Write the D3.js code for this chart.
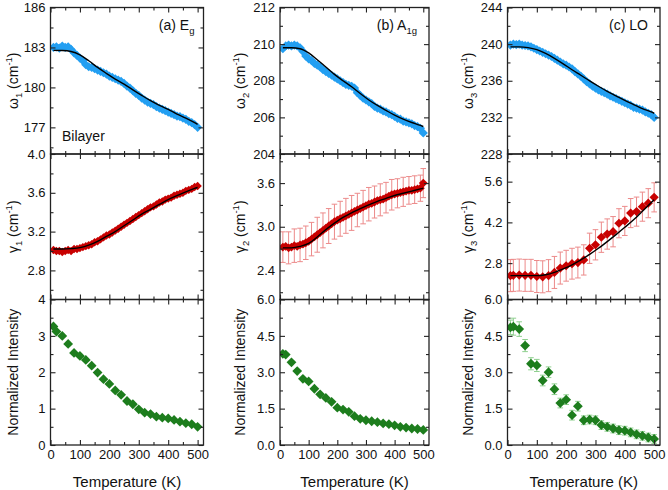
<!DOCTYPE html>
<html><head><meta charset="utf-8">
<script src="https://cdn.jsdelivr.net/npm/d3@7"></script>
<style>
body{margin:0;background:#fff}
svg{display:block}
text{font-family:"Liberation Sans", Arial, sans-serif;fill:#111}
</style>
</head><body><svg id="c" width="668" height="490"></svg>
<script>
// ---------------- DATA ----------------
const tempDense = [10,20,30,40,50,60,70,80,90,100,110,120,130,140,150,160,170,180,190,200,210,220,230,240,250,260,270,280,290,300,310,320,330,340,350,360,370,380,390,400,410,420,430,440,450,460,470,480,490,500];
const tempSparse = [10,20,40,60,80,100,120,140,160,180,200,220,240,260,280,300,320,340,360,380,400,420,440,460,480,500];
const fitTemp = [10,40,70,100,130,160,190,220,250,280,310,340,370,400,430,460,490,500];

const omega1 = [183.0,183.05,182.95,183.1,183.0,183.05,182.85,182.6,182.4,182.2,182.0,181.7,181.55,181.5,181.4,181.3,181.2,181.1,181.0,180.85,180.75,180.65,180.55,180.45,180.3,180.1,179.95,179.75,179.55,179.4,179.2,179.05,178.9,178.8,178.7,178.55,178.45,178.35,178.25,178.15,178.05,177.95,177.85,177.8,177.7,177.6,177.45,177.35,177.2,177.0];
const omega1Fit = [182.78,182.77,182.7,182.45,182.0,181.5,181.05,180.62,180.25,179.82,179.4,179.0,178.65,178.35,178.0,177.7,177.35,177.22];

const omega2 = [209.75,209.9,209.95,209.9,209.95,209.9,209.8,209.6,209.35,209.2,209.1,208.95,208.85,208.75,208.6,208.5,208.4,208.3,208.2,208.1,208.0,207.9,207.8,207.75,207.7,207.6,207.35,207.2,207.05,206.95,206.85,206.75,206.6,206.5,206.45,206.35,206.3,206.2,206.15,206.05,205.95,205.9,205.8,205.75,205.7,205.65,205.55,205.5,205.4,205.15];
const omega2Fit = [209.8,209.8,209.75,209.52,209.15,208.75,208.35,208.0,207.67,207.3,206.95,206.65,206.38,206.12,205.9,205.72,205.56,205.5];

const omega3 = [239.9,240.0,239.95,240.0,239.9,239.85,239.8,239.7,239.55,239.4,239.25,239.1,238.95,238.8,238.65,238.45,238.25,238.05,237.85,237.7,237.5,237.3,237.0,236.75,236.5,236.2,235.9,235.65,235.4,235.2,235.0,234.85,234.7,234.55,234.35,234.2,234.05,233.9,233.75,233.6,233.45,233.3,233.1,233.0,232.9,232.8,232.6,232.45,232.3,232.0];
const omega3Fit = [239.7,239.7,239.62,239.4,238.98,238.45,237.85,237.2,236.6,235.98,235.4,234.85,234.35,233.85,233.4,232.95,232.6,232.45];

const gamma1 = [3.01,3.0,3.0,2.99,3.0,3.01,3.0,3.02,3.02,3.03,3.04,3.05,3.06,3.07,3.09,3.10,3.12,3.14,3.16,3.17,3.19,3.21,3.23,3.25,3.27,3.29,3.31,3.33,3.35,3.37,3.39,3.41,3.43,3.45,3.46,3.48,3.50,3.51,3.53,3.54,3.55,3.57,3.58,3.59,3.60,3.62,3.63,3.64,3.66,3.67];
const gamma1Fit = [3.02,3.02,3.025,3.035,3.06,3.1,3.15,3.2,3.26,3.32,3.38,3.43,3.48,3.53,3.57,3.61,3.645,3.655];

const gamma2 = [2.72,2.73,2.71,2.72,2.74,2.73,2.75,2.76,2.78,2.80,2.83,2.86,2.89,2.92,2.95,2.98,3.01,3.04,3.07,3.09,3.11,3.13,3.15,3.17,3.19,3.21,3.23,3.25,3.27,3.29,3.31,3.32,3.34,3.36,3.37,3.38,3.40,3.42,3.44,3.45,3.46,3.47,3.48,3.49,3.50,3.50,3.51,3.52,3.53,3.60];
const gamma2ErrTemp = [10,30,50,70,90,110,130,150,170,190,210,230,250,270,290,310,330,350,370,390,410,430,450,470,490,500];
const gamma2Err = [0.21,0.22,0.23,0.23,0.23,0.23,0.24,0.24,0.24,0.24,0.24,0.24,0.24,0.23,0.23,0.23,0.22,0.22,0.21,0.21,0.2,0.2,0.19,0.19,0.18,0.2];
const gamma2Fit = [2.71,2.71,2.73,2.77,2.86,2.96,3.05,3.13,3.19,3.25,3.30,3.35,3.39,3.43,3.46,3.49,3.52,3.53];

const gamma3 = [2.37,2.38,2.39,2.38,2.38,2.34,2.33,2.37,2.48,2.63,2.71,2.78,2.82,2.91,3.31,3.43,3.69,3.80,3.88,4.17,4.25,4.52,4.57,4.74,4.86,5.06];
const gamma3Err = [0.55,0.55,0.55,0.55,0.55,0.55,0.55,0.55,0.55,0.55,0.53,0.53,0.53,0.52,0.52,0.52,0.52,0.52,0.52,0.5,0.5,0.5,0.5,0.5,0.5,0.5];
const gamma3Fit = [2.37,2.37,2.37,2.37,2.40,2.48,2.60,2.74,2.91,3.10,3.31,3.54,3.78,4.03,4.29,4.58,4.88,4.98];

const intensity1 = [3.26,3.12,3.0,2.78,2.53,2.45,2.34,2.18,1.99,1.81,1.68,1.50,1.38,1.21,1.12,0.98,0.89,0.85,0.78,0.75,0.73,0.69,0.64,0.60,0.57,0.50];
const intensity2 = [3.76,3.73,3.41,3.05,2.73,2.62,2.32,2.09,1.94,1.78,1.54,1.46,1.37,1.19,1.08,1.02,0.98,0.94,0.89,0.86,0.81,0.75,0.72,0.68,0.66,0.62];
const intensity3 = [4.85,4.88,4.78,4.10,3.35,3.28,2.66,3.0,2.30,1.73,1.87,1.23,1.60,1.02,1.05,1.02,0.82,0.75,0.68,0.61,0.59,0.52,0.44,0.38,0.31,0.25];
const intensity3Err = [0.3,0.35,0.3,0.25,0.25,0.25,0.22,0.22,0.22,0.2,0.2,0.2,0.2,0.18,0.18,0.18,0.18,0.18,0.18,0.18,0.18,0.18,0.18,0.18,0.18,0.18];

const xTicksMajor = [0,100,200,300,400,500];
const xTicksMinor = [50,150,250,350,450];
const xDomain = [0,520];

// ---------------- LAYOUT / STYLE ----------------
const colX = [[50.5,203.5],[280,429],[507.5,660]];
const rowY = [[7.5,154],[154,299.5],[299.5,445]];
const BLUE = "#239ff2", RED = "#c80000", GREEN = "#1d7d1d";
const RED_ERR = "#ec8a8a", GREEN_ERR = "#8fd08f";

const panels = [
  {c:0,r:0,x:tempDense,y:omega1,fx:fitTemp,fy:omega1Fit,dom:[175,186],maj:[177,180,183,186],min:[175.5,178.5,181.5,184.5],fmt:"d",col:BLUE,rad:4.6},
  {c:1,r:0,x:tempDense,y:omega2,fx:fitTemp,fy:omega2Fit,dom:[204,212],maj:[204,206,208,210,212],min:[205,207,209,211],fmt:"d",col:BLUE,rad:4.6},
  {c:2,r:0,x:tempDense,y:omega3,fx:fitTemp,fy:omega3Fit,dom:[228,244],maj:[228,232,236,240,244],min:[230,234,238,242],fmt:"d",col:BLUE,rad:4.6},
  {c:0,r:1,x:tempDense,y:gamma1,fx:fitTemp,fy:gamma1Fit,dom:[2.5,4.0],maj:[2.8,3.2,3.6,4.0],min:[2.6,3.0,3.4,3.8],fmt:".1f",col:RED,rad:4.2},
  {c:1,r:1,x:tempDense,y:gamma2,fx:fitTemp,fy:gamma2Fit,dom:[2.0,4.0],maj:[2.4,3.0,3.6],min:[2.1,2.7,3.3,3.9],fmt:".1f",col:RED,rad:4.4,
     ex:gamma2ErrTemp,ee:gamma2Err,ecol:RED_ERR},
  {c:2,r:1,x:tempSparse,y:gamma3,fx:fitTemp,fy:gamma3Fit,dom:[1.55,6.55],maj:[2.8,4.2,5.6],min:[2.1,3.5,4.9,6.3],fmt:".1f",col:RED,rad:4.6,
     ex:tempSparse,ee:gamma3Err,ecol:RED_ERR},
  {c:0,r:2,x:tempSparse,y:intensity1,dom:[0,4],maj:[0,1,2,3,4],min:[0.5,1.5,2.5,3.5],fmt:"d",col:GREEN,rad:4.9},
  {c:1,r:2,x:tempSparse,y:intensity2,dom:[0,6],maj:[0,1.5,3.0,4.5,6.0],min:[0.75,2.25,3.75,5.25],fmt:".1f",col:GREEN,rad:4.9},
  {c:2,r:2,x:tempSparse,y:intensity3,dom:[0,6],maj:[0,1.5,3.0,4.5,6.0],min:[0.75,2.25,3.75,5.25],fmt:".1f",col:GREEN,rad:4.9,
     ex:tempSparse,ee:intensity3Err,ecol:GREEN_ERR}
];

const yTitles = [
  [["ω"],["1","sub"],[" (cm"],["-1","sup"],[")"]],
  [["γ"],["1","sub"],[" (cm"],["-1","sup"],[")"]],
  [["Normalized Intensity"]],
  [["ω"],["2","sub"],[" (cm"],["-1","sup"],[")"]],
  [["γ"],["2","sub"],[" (cm"],["-1","sup"],[")"]],
  [["Normalized Intensity"]],
  [["ω"],["3","sub"],[" (cm"],["-1","sup"],[")"]],
  [["γ"],["3","sub"],[" (cm"],["-1","sup"],[")"]],
  [["Normalized Intensity"]]
];
const panelLabels = [
  [["(a) E"],["g","sub"]],
  [["(b) A"],["1g","sub"]],
  [["(c) LO"]]
];
const xTitle = "Temperature (K)";
const noteText = "Bilayer";

// ---------------- DRAW ----------------
const svg = d3.select("#c");
const diamond = r => `M0,${-r}L${r},0L0,${r}L${-r},0Z`;

function richText(sel, parts, base) {
  let shift = 0;
  parts.forEach(p => {
    const t = sel.append("tspan").text(p[0]);
    let target = 0;
    if (p[1] === "sub") { target = base*0.3; t.attr("font-size", base*0.68); }
    else if (p[1] === "sup") { target = -base*0.42; t.attr("font-size", base*0.68); }
    t.attr("dy", target - shift);
    shift = target;
  });
}

panels.forEach((p, i) => {
  const [x0, x1] = colX[p.c], [y0, y1] = rowY[p.r];
  const xs = d3.scaleLinear().domain(xDomain).range([x0, x1]);
  const ys = d3.scaleLinear().domain(p.dom).range([y1, y0]);
  const g = svg.append("g");

  const clipId = "clip" + i;
  svg.append("clipPath").attr("id", clipId).append("rect")
     .attr("x", x0).attr("y", y0).attr("width", x1 - x0).attr("height", y1 - y0);
  const plot = g.append("g").attr("clip-path", `url(#${clipId})`);

  // error bars
  if (p.ex) {
    const lookup = new Map(p.x.map((t, k) => [t, p.y[k]]));
    p.ex.forEach((t, k) => {
      const v = lookup.get(t), e = p.ee[k];
      const cx = xs(t);
      plot.append("line").attr("x1", cx).attr("x2", cx).attr("y1", ys(v - e)).attr("y2", ys(v + e))
        .attr("stroke", p.ecol).attr("stroke-width", 1);
      [v - e, v + e].forEach(vv => plot.append("line")
        .attr("x1", cx - 2.8).attr("x2", cx + 2.8).attr("y1", ys(vv)).attr("y2", ys(vv))
        .attr("stroke", p.ecol).attr("stroke-width", 1));
    });
  }
  // points
  plot.selectAll("path.pt").data(p.x.map((t, k) => [t, p.y[k]])).join("path")
    .attr("class", "pt")
    .attr("d", diamond(p.rad))
    .attr("transform", d => `translate(${xs(d[0])},${ys(d[1])})`)
    .attr("fill", p.col);
  // fit line
  if (p.fx) {
    const line = d3.line().x(d => xs(d[0])).y(d => ys(d[1])).curve(d3.curveMonotoneX);
    plot.append("path").datum(p.fx.map((t, k) => [t, p.fy[k]]))
      .attr("d", line).attr("fill", "none").attr("stroke", "#000").attr("stroke-width", 1.4);
  }

  // axes
  const tickStyle = a => { a.select(".domain").remove(); a.selectAll(".tick line").attr("stroke", "#222").attr("stroke-width", 1.1); };
  const fmt = d3.format(p.fmt);
  const aL = g.append("g").attr("transform", `translate(${x0},0)`)
    .call(d3.axisLeft(ys).tickValues(p.maj).tickFormat(fmt).tickSizeInner(-5).tickSizeOuter(0).tickPadding(5));
  aL.selectAll("text").attr("font-size", 13).attr("font-family", "Liberation Sans, Arial, sans-serif").attr("fill", "#111");
  tickStyle(aL);
  tickStyle(g.append("g").attr("transform", `translate(${x0},0)`)
    .call(d3.axisLeft(ys).tickValues(p.min).tickFormat("").tickSizeInner(-3).tickSizeOuter(0)));
  tickStyle(g.append("g").attr("transform", `translate(${x1},0)`)
    .call(d3.axisRight(ys).tickValues(p.maj).tickFormat("").tickSizeInner(-5).tickSizeOuter(0)));
  tickStyle(g.append("g").attr("transform", `translate(${x1},0)`)
    .call(d3.axisRight(ys).tickValues(p.min).tickFormat("").tickSizeInner(-3).tickSizeOuter(0)));
  tickStyle(g.append("g").attr("transform", `translate(0,${y0})`)
    .call(d3.axisTop(xs).tickValues(xTicksMajor).tickFormat("").tickSizeInner(-5).tickSizeOuter(0)));
  tickStyle(g.append("g").attr("transform", `translate(0,${y0})`)
    .call(d3.axisTop(xs).tickValues(xTicksMinor).tickFormat("").tickSizeInner(-3).tickSizeOuter(0)));
  const aB = g.append("g").attr("transform", `translate(0,${y1})`)
    .call(d3.axisBottom(xs).tickValues(xTicksMajor).tickFormat(p.r === 2 ? d3.format("d") : "").tickSizeInner(-5).tickSizeOuter(0).tickPadding(5));
  aB.selectAll("text").attr("font-size", 13).attr("font-family", "Liberation Sans, Arial, sans-serif").attr("fill", "#111");
  tickStyle(aB);
  tickStyle(g.append("g").attr("transform", `translate(0,${y1})`)
    .call(d3.axisBottom(xs).tickValues(xTicksMinor).tickFormat("").tickSizeInner(-3).tickSizeOuter(0)));

  // frame
  g.append("rect").attr("x", x0).attr("y", y0).attr("width", x1 - x0).attr("height", y1 - y0)
    .attr("fill", "none").attr("stroke", "#222").attr("stroke-width", 1.3);

  // y title
  const titleX = [13, 240, 467.5][p.c];
  const yt = svg.append("text")
    .attr("transform", `translate(${titleX + 5},${(y0 + y1) / 2}) rotate(-90)`)
    .attr("text-anchor", "middle").attr("font-size", 14);
  richText(yt, yTitles[p.c * 3 + p.r], 14);

  // x title
  if (p.r === 2) {
    svg.append("text").attr("x", (x0 + x1) / 2).attr("y", 487)
      .attr("text-anchor", "middle").attr("font-size", 15).text(xTitle);
  }
  // panel label
  if (p.r === 0) {
    const lt = svg.append("text").attr("x", x1 - [9, 12, 12][p.c]).attr("y", 29.5)
      .attr("text-anchor", "end").attr("font-size", 14);
    richText(lt, panelLabels[p.c], 14);
  }
});

svg.append("text").attr("x", 62).attr("y", 141).attr("font-size", 14).text(noteText);
</script>
</body></html>
